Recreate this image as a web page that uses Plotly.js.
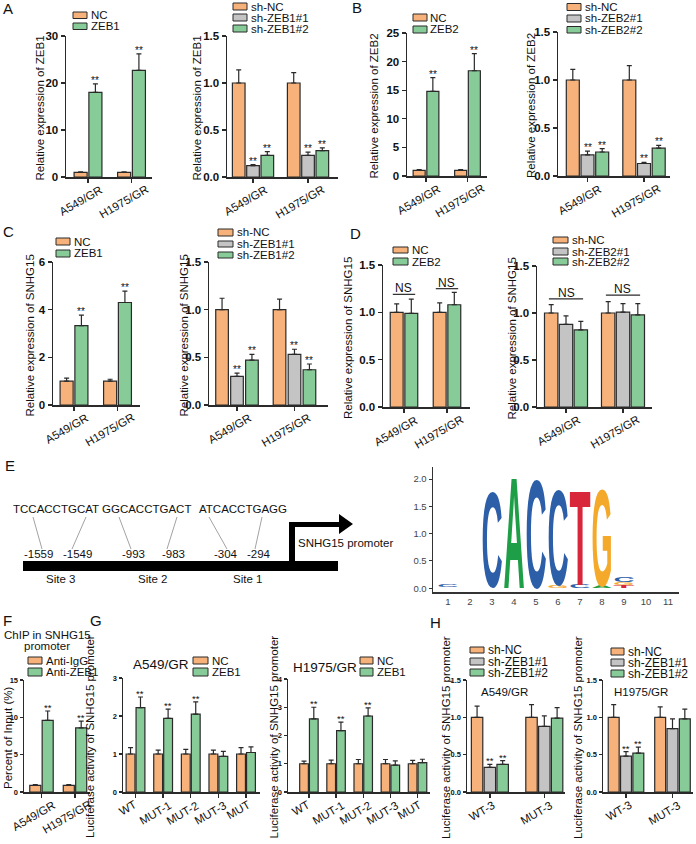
<!DOCTYPE html>
<html><head><meta charset="utf-8">
<script src="https://cdn.plot.ly/plotly-3.0.1.min.js"></script>
<style>html,body{margin:0;padding:0;background:#fff}#chart{width:696px;height:844px}</style>
</head><body><div id="chart"></div>
<script>
// ================= DATA =================
const cellLines = ['A549/GR', 'H1975/GR'];
const constructs = ['WT', 'MUT-1', 'MUT-2', 'MUT-3', 'MUT'];
const constructsH = ['WT-3', 'MUT-3'];

// Panel A
const A1_names = ['NC', 'ZEB1'];
const A1_vals = [[1.0, 1.0], [18.0, 22.7]];
const A1_errs = [[0.07, 0.07], [1.8, 3.5]];
const A1_sig = [['', ''], ['**', '**']];
const A2_names = ['sh-NC', 'sh-ZEB1#1', 'sh-ZEB1#2'];
const A2_vals = [[1.0, 1.0], [0.12, 0.23], [0.23, 0.28]];
const A2_errs = [[0.14, 0.11], [0.012, 0.035], [0.04, 0.03]];
const A2_sig = [['', ''], ['**', '**'], ['**', '**']];
// Panel B
const B1_names = ['NC', 'ZEB2'];
const B1_vals = [[1.0, 1.0], [14.8, 18.4]];
const B1_errs = [[0.1, 0.1], [2.4, 3.0]];
const B1_sig = [['', ''], ['**', '**']];
const B2_names = ['sh-NC', 'sh-ZEB2#1', 'sh-ZEB2#2'];
const B2_vals = [[1.0, 1.0], [0.22, 0.13], [0.25, 0.29]];
const B2_errs = [[0.11, 0.15], [0.04, 0.012], [0.035, 0.03]];
const B2_sig = [['', ''], ['**', '**'], ['**', '**']];
// Panel C
const C1_names = ['NC', 'ZEB1'];
const C1_vals = [[1.0, 1.0], [3.33, 4.3]];
const C1_errs = [[0.13, 0.08], [0.44, 0.48]];
const C1_sig = [['', ''], ['**', '**']];
const C2_names = ['sh-NC', 'sh-ZEB1#1', 'sh-ZEB1#2'];
const C2_vals = [[1.0, 1.0], [0.30, 0.53], [0.47, 0.37]];
const C2_errs = [[0.12, 0.11], [0.035, 0.055], [0.06, 0.06]];
const C2_sig = [['', ''], ['**', '**'], ['**', '**']];
// Panel D
const D1_names = ['NC', 'ZEB2'];
const D1_vals = [[1.0, 1.0], [0.99, 1.08]];
const D1_errs = [[0.09, 0.1], [0.15, 0.13]];
const D1_ns = ['NS', 'NS'];
const D1_nsLevel = [1.19, 1.25];
const D2_names = ['sh-NC', 'sh-ZEB2#1', 'sh-ZEB2#2'];
const D2_vals = [[1.0, 1.0], [0.88, 1.01], [0.82, 0.98]];
const D2_errs = [[0.09, 0.12], [0.09, 0.09], [0.09, 0.12]];
const D2_ns = ['NS', 'NS'];
const D2_nsLevel = [1.15, 1.19];
// Panel E (promoter schematic + motif logo)
const siteSeqs = ['TCCACCTGCAT', 'GGCACCTGACT', 'ATCACCTGAGG'];
const sitePositions = ['-1559', '-1549', '-993', '-983', '-304', '-294'];
const siteNames = ['Site 3', 'Site 2', 'Site 1'];
const logoPos    = [1,    3,    4,    5,    6,    6,    7,    7,    8,    8,    9,    9,    9];
const logoLetter = ['C',  'C',  'A',  'C',  'G',  'C',  'C',  'T',  'A',  'G',  'T',  'G',  'C'];
const logoBottom = [0.02, 0.03, 0.0,  0.0,  0.0,  0.05, 0.0,  0.06, 0.0,  0.04, 0.0,  0.05, 0.11];
const logoTop    = [0.06, 1.81, 2.07, 2.03, 0.05, 1.83, 0.06, 1.84, 0.04, 1.85, 0.05, 0.10, 0.21];
// Panel F
const F_names = ['Anti-IgG', 'Anti-ZEB1'];
const F_vals = [[0.9, 0.9], [9.6, 8.6]];
const F_errs = [[0.08, 0.08], [1.25, 0.9]];
const F_sig = [['', ''], ['**', '**']];
// Panel G
const G_names = ['NC', 'ZEB1'];
const G1_vals = [[1.0, 1.0, 1.0, 1.0, 1.0], [2.22, 1.94, 2.05, 0.94, 1.04]];
const G1_errs = [[0.17, 0.1, 0.12, 0.1, 0.17], [0.28, 0.24, 0.32, 0.13, 0.15]];
const G1_sig = [['', '', '', '', ''], ['**', '**', '**', '', '']];
const G2_vals = [[1.0, 1.0, 1.0, 1.0, 1.0], [2.59, 2.17, 2.69, 0.95, 1.04]];
const G2_errs = [[0.09, 0.13, 0.15, 0.15, 0.12], [0.41, 0.30, 0.29, 0.15, 0.12]];
const G2_sig = [['', '', '', '', ''], ['**', '**', '**', '', '']];
// Panel H
const H_names = ['sh-NC', 'sh-ZEB1#1', 'sh-ZEB1#2'];
const H1_vals = [[1.0, 1.0], [0.33, 0.88], [0.37, 0.99]];
const H1_errs = [[0.15, 0.17], [0.04, 0.14], [0.05, 0.14]];
const H1_sig = [['', ''], ['**', ''], ['**', '']];
const H2_vals = [[1.0, 1.0], [0.48, 0.85], [0.52, 0.98]];
const H2_errs = [[0.17, 0.14], [0.06, 0.13], [0.08, 0.13]];
const H2_sig = [['', ''], ['**', ''], ['**', '']];

// ================= STYLE / LAYOUT HELPERS =================
const FONT = 'Liberation Sans, Arial, Helvetica, sans-serif';
const W = 696, Hh = 844;
const X = p => p / W;
const Y = p => 1 - p / Hh;
const ORANGE = '#f7b27b', GRAY = '#c4c4c4', GREEN = '#86cb98', EDGE = '#2a2a2a', INK = '#111111';
const pal2 = [ORANGE, GREEN], pal3 = [ORANGE, GRAY, GREEN];
const LOGO_COL = {C: '#2d5ea8', A: '#1f9e48', T: '#d8273a', G: '#f5a92a'};

const traces = [], shapes = [], annotations = [], layout = {};

function ax(n) { return n === 1 ? '' : String(n); }
function ann(o) { annotations.push(Object.assign({showarrow: false, font: {family: FONT, size: 11.5, color: INK}}, o)); }

function panel(p) {
  const k = ax(p.n);
  const ns = p.names.length;
  const pal = ns === 2 ? pal2 : pal3;
  const total = ns * p.bw + (ns - 1) * p.gap;
  p.names.forEach((nm, s) => {
    const off = -total / 2 + s * (p.bw + p.gap);
    traces.push({
      type: 'bar', x: p.cats, y: p.vals[s], name: nm,
      xaxis: 'x' + k, yaxis: 'y' + k, offset: off, width: p.bw,
      marker: {color: pal[s], line: {color: EDGE, width: 1.2}},
      error_y: {type: 'data', symmetric: false, array: p.errs[s], arrayminus: p.vals[s].map(() => 0),
                color: EDGE, thickness: 1.2, width: 2.5},
      showlegend: false, hoverinfo: 'skip'
    });
    if (p.sig) p.sig[s].forEach((t, i) => {
      if (!t) return;
      ann({xref: 'x' + k, yref: 'y' + k, x: i + off + p.bw / 2, y: p.vals[s][i] + p.errs[s][i],
           text: t, yanchor: 'bottom', yshift: -4, font: {family: FONT, size: p.sfs || 10, color: INK}});
    });
    // legend entry
    const yy = p.leg.ys[s];
    shapes.push({type: 'rect', xref: 'paper', yref: 'paper', x0: X(p.leg.x[0]), x1: X(p.leg.x[1]),
                 y0: Y(yy[1]), y1: Y(yy[0]), fillcolor: pal[s], line: {color: EDGE, width: 1}});
    ann({xref: 'paper', yref: 'paper', x: X(p.leg.x[1] + 1.5), y: Y((yy[0] + yy[1]) / 2), xanchor: 'left', yanchor: 'middle',
         text: nm, font: {family: FONT, size: p.leg.fs || 11.5, color: INK}});
  });
  layout['xaxis' + k] = {
    domain: [X(p.xd[0]), X(p.xd[1])], range: p.xr, type: 'category', anchor: 'y' + k,
    showline: true, linecolor: EDGE, linewidth: 1.5, ticks: 'outside', ticklen: 4, tickwidth: 1.3, tickcolor: EDGE,
    showticklabels: false, showgrid: false, zeroline: false, fixedrange: true
  };
  layout['yaxis' + k] = {
    domain: [Y(p.yd[1]), Y(p.yd[0])], range: p.yr, anchor: 'x' + k, dtick: p.dtick, tick0: 0,
    tickformat: p.fmt || '', showline: true, linecolor: EDGE, linewidth: 1.5, ticks: 'outside', ticklen: p.tl || 4,
    tickwidth: 1.3, tickcolor: EDGE, showgrid: false, zeroline: false, fixedrange: true,
    tickfont: {family: FONT, size: p.tfs || 11.5, color: INK, weight: 'bold'}
  };
  // rotated category labels
  p.cats.forEach((c, i) => {
    ann({xref: 'x' + k, yref: 'paper', x: i, y: Y(p.yd[1]), xshift: -8, yshift: -4,
         xanchor: 'center', yanchor: 'top', textangle: -30, text: c, font: {family: FONT, size: 11.5, color: INK}});
  });
  // y title
  ann({xref: 'paper', yref: 'paper', x: X(p.ytx), y: Y((p.yd[0] + p.yd[1]) / 2 + 2), textangle: -90,
       xanchor: 'center', yanchor: 'middle', text: p.ytitle, font: {family: FONT, size: 11.5, color: INK}});
  if (p.ns) p.ns.forEach((t, i) => {
    shapes.push({type: 'line', xref: 'x' + k, yref: 'y' + k, x0: i - p.nsHalf, x1: i + p.nsHalf,
                 y0: p.nsLevel[i], y1: p.nsLevel[i], line: {color: EDGE, width: 1.2}});
    ann({xref: 'x' + k, yref: 'y' + k, x: i, y: p.nsLevel[i], yanchor: 'bottom', yshift: -3, text: t,
         font: {family: FONT, size: 12, color: INK}});
  });
  if (p.title) ann({xref: 'paper', yref: 'paper', x: X(p.title.x), y: Y(p.title.y), xanchor: 'center', yanchor: 'middle',
                    text: p.title.text, font: {family: FONT, size: p.title.fs, color: INK}});
}

// ---- bar panels ----
panel({n: 1, cats: cellLines, names: A1_names, vals: A1_vals, errs: A1_errs, sig: A1_sig,
  xd: [66, 152], yd: [36, 177], xr: [-0.506, 1.471], yr: [0, 30], dtick: 10, bw: 0.30, gap: 0.04,
  ytitle: 'Relative expression of ZEB1', ytx: 39, leg: {x: [73, 87], ys: [[12, 18.5], [23, 29.5]]}});
panel({n: 2, cats: cellLines, names: A2_names, vals: A2_vals, errs: A2_errs, sig: A2_sig,
  xd: [227, 338], yd: [36, 177], xr: [-0.473, 1.545], yr: [0, 1.5], dtick: 0.5, fmt: '.1f', bw: 0.23, gap: 0.03,
  ytitle: 'Relative expression of ZEB1', ytx: 196, leg: {x: [233, 247], ys: [[3, 10], [14, 21], [25, 32]]}});
panel({n: 3, cats: cellLines, names: B1_names, vals: B1_vals, errs: B1_errs, sig: B1_sig,
  xd: [407, 487], yd: [33, 176], xr: [-0.458, 1.47], yr: [0, 25], dtick: 5, bw: 0.29, gap: 0.04,
  ytitle: 'Relative expression of ZEB2', ytx: 373, leg: {x: [413, 427], ys: [[14, 21], [26, 33]]}});
panel({n: 4, cats: cellLines, names: B2_names, vals: B2_vals, errs: B2_errs, sig: B2_sig,
  xd: [558, 670], yd: [32, 176], xr: [-0.522, 1.46], yr: [0, 1.5], dtick: 0.5, fmt: '.1f', bw: 0.23, gap: 0.03,
  ytitle: 'Relative expression of ZEB2', ytx: 531, leg: {x: [567, 581], ys: [[3.5, 10.5], [15, 22], [26.5, 33]]}});
panel({n: 5, cats: cellLines, names: C1_names, vals: C1_vals, errs: C1_errs, sig: C1_sig,
  xd: [53, 140], yd: [262, 405], xr: [-0.483, 1.517], yr: [0, 6], dtick: 2, bw: 0.30, gap: 0.04,
  ytitle: 'Relative expression of SNHG15', ytx: 29, leg: {x: [56, 70], ys: [[238, 245], [250, 257]]}});
panel({n: 6, cats: cellLines, names: C2_names, vals: C2_vals, errs: C2_errs, sig: C2_sig,
  xd: [209, 328], yd: [262, 405], xr: [-0.487, 1.583], yr: [0, 1.5], dtick: 0.5, fmt: '.1f', bw: 0.22, gap: 0.04,
  ytitle: 'Relative expression of SNHG15', ytx: 183, leg: {x: [218, 233], ys: [[229, 236], [241, 247], [252, 258]]}});
panel({n: 7, cats: cellLines, names: D1_names, vals: D1_vals, errs: D1_errs,
  xd: [383, 470], yd: [265, 407], xr: [-0.488, 1.535], yr: [0, 1.5], dtick: 0.5, fmt: '.1f', bw: 0.30, gap: 0.04,
  ytitle: 'Relative expression of SNHG15', ytx: 348, leg: {x: [393, 408], ys: [[247, 253], [258, 265]]},
  ns: D1_ns, nsLevel: D1_nsLevel, nsHalf: 0.26});
panel({n: 8, cats: cellLines, names: D2_names, vals: D2_vals, errs: D2_errs,
  xd: [537, 652], yd: [266, 407], xr: [-0.509, 1.509], yr: [0, 1.5], dtick: 0.5, fmt: '.1f', bw: 0.235, gap: 0.025,
  ytitle: 'Relative expression of SNHG15', ytx: 511, leg: {x: [553, 568], ys: [[237, 243], [248, 255], [258, 265]]},
  ns: D2_ns, nsLevel: D2_nsLevel, nsHalf: 0.30});
panel({n: 9, cats: cellLines, names: F_names, vals: F_vals, errs: F_errs, sig: F_sig, sfs: 9.5,
  xd: [24, 90], yd: [680, 792], xr: [-0.522, 1.448], yr: [0, 15], dtick: 5, bw: 0.33, gap: 0.04, tfs: 7.5, tl: 3,
  ytitle: 'Percent of Input (%)', ytx: 8, leg: {x: [28, 42], ys: [[657, 664], [668, 676]]}});
panel({n: 10, cats: constructs, names: G_names, vals: G1_vals, errs: G1_errs, sig: G1_sig, sfs: 9.5,
  xd: [123, 260], yd: [678, 792], xr: [-0.453, 4.507], yr: [0, 3], dtick: 1, bw: 0.32, gap: 0.04, tfs: 7.5, tl: 3,
  ytitle: 'Luciferase activity of SNHG15 promoter', ytx: 90, leg: {x: [193, 208], ys: [[657, 664], [668, 676]]},
  title: {text: 'A549/GR', x: 161, y: 664, fs: 13.5}});
panel({n: 11, cats: constructs, names: G_names, vals: G2_vals, errs: G2_errs, sig: G2_sig, sfs: 9.5,
  xd: [288, 430], yd: [679, 792], xr: [-0.77, 4.459], yr: [0, 4], dtick: 1, bw: 0.32, gap: 0.04, tfs: 7.5, tl: 3,
  ytitle: 'Luciferase activity of SNHG15 promoter', ytx: 273, leg: {x: [360, 373], ys: [[657, 664], [668, 676]]},
  title: {text: 'H1975/GR', x: 325, y: 667, fs: 13.5}});
panel({n: 12, cats: constructsH, names: H_names, vals: H1_vals, errs: H1_errs, sig: H1_sig, sfs: 9.5,
  xd: [467, 565], yd: [680, 792], xr: [-0.42, 1.38], yr: [0, 1.5], dtick: 0.5, fmt: '.1f', bw: 0.21, gap: 0.025, tfs: 7.5, tl: 3,
  ytitle: 'Luciferase activity of SNHG15 promoter', ytx: 446,
  leg: {x: [470, 484], ys: [[647, 653], [658, 665], [669, 676]], fs: 12},
  title: {text: 'A549/GR', x: 504, y: 692, fs: 11.5}});
panel({n: 13, cats: constructsH, names: H_names, vals: H2_vals, errs: H2_errs, sig: H2_sig, sfs: 9.5,
  xd: [603, 693], yd: [680, 792], xr: [-0.495, 1.441], yr: [0, 1.5], dtick: 0.5, fmt: '.1f', bw: 0.235, gap: 0.03, tfs: 7.5, tl: 3,
  ytitle: 'Luciferase activity of SNHG15 promoter', ytx: 578,
  leg: {x: [611, 624], ys: [[648, 655], [659, 666], [670, 677]], fs: 12},
  title: {text: 'H1975/GR', x: 641, y: 692, fs: 11.5}});

// F title
ann({xref: 'paper', yref: 'paper', x: X(47), y: Y(635), text: 'ChIP in SNHG15', xanchor: 'center', yanchor: 'middle'});
ann({xref: 'paper', yref: 'paper', x: X(47), y: Y(646), text: 'promoter', xanchor: 'center', yanchor: 'middle'});

// ---- motif logo axes ----
layout.xaxis14 = {domain: [X(433), X(679)], range: [0.32, 11.5], anchor: 'y14', tickvals: [1,2,3,4,5,6,7,8,9,10,11],
  showline: true, linecolor: '#333', linewidth: 1.5, ticks: '', showgrid: false, zeroline: false, fixedrange: true,
  tickfont: {family: FONT, size: 9.5, color: '#444'}};
layout.yaxis14 = {domain: [Y(592), Y(467)], range: [-0.07, 2.22], anchor: 'x14', tickvals: [0, 0.5, 1, 1.5, 2],
  tickformat: '.1f', showline: true, linecolor: '#333', linewidth: 1.5, ticks: 'outside', ticklen: 3, tickcolor: '#333',
  showgrid: false, zeroline: false, fixedrange: true, tickfont: {family: FONT, size: 9.5, color: '#444'}};
traces.push({type: 'scatter', mode: 'markers', x: logoPos, y: logoBottom, xaxis: 'x14', yaxis: 'y14',
  marker: {opacity: 0}, showlegend: false, hoverinfo: 'skip'});

// ---- promoter schematic ----
const P = (x, y) => X(x).toFixed(5) + ',' + Y(y).toFixed(5);
shapes.push({type: 'rect', xref: 'paper', yref: 'paper', x0: X(23), x1: X(338), y0: Y(571), y1: Y(561),
  fillcolor: '#000', line: {width: 0}});
shapes.push({type: 'path', xref: 'paper', yref: 'paper', fillcolor: '#000', line: {width: 0},
  path: 'M' + P(289, 561) + 'L' + P(289, 522) + 'L' + P(339, 522) + 'L' + P(339, 514) + 'L' + P(353, 524) +
        'L' + P(339, 534) + 'L' + P(339, 527) + 'L' + P(295, 527) + 'L' + P(295, 561) + 'Z'});
const connectors = [[33, 42], [86, 72], [119, 131], [177, 167], [209, 227], [262, 255]];
connectors.forEach(c => shapes.push({type: 'line', xref: 'paper', yref: 'paper', x0: X(c[0]), y0: Y(517),
  x1: X(c[1]), y1: Y(549), line: {color: '#8a8a8a', width: 0.8}}));
const seqX = [56, 146.5, 243];
siteSeqs.forEach((s, i) => ann({xref: 'paper', yref: 'paper', x: X(seqX[i]), y: Y(509), text: s, xanchor: 'center', yanchor: 'middle'}));
const posX = [38, 77, 133, 173, 226, 259];
sitePositions.forEach((s, i) => ann({xref: 'paper', yref: 'paper', x: X(posX[i]), y: Y(554), text: s, xanchor: 'center', yanchor: 'middle'}));
const siteX = [60, 152, 247];
siteNames.forEach((s, i) => ann({xref: 'paper', yref: 'paper', x: X(siteX[i]), y: Y(578.5), text: s, xanchor: 'center', yanchor: 'middle'}));
ann({xref: 'paper', yref: 'paper', x: X(296), y: Y(543), text: 'SNHG15 promoter', xanchor: 'left', yanchor: 'middle'});

// ---- panel letters ----
[['A', 8, 8.5], ['B', 356.5, 7.5], ['C', 8, 231], ['D', 355, 233], ['E', 10, 465], ['F', 7, 620], ['G', 96, 620], ['H', 435, 622]]
  .forEach(l => ann({xref: 'paper', yref: 'paper', x: X(l[1]), y: Y(l[2]), text: l[0], xanchor: 'center', yanchor: 'middle',
                     font: {family: FONT, size: 15, color: INK}}));

Object.assign(layout, {
  width: W, height: Hh, margin: {l: 0, r: 0, t: 0, b: 0, pad: 0},
  paper_bgcolor: '#fff', plot_bgcolor: 'rgba(0,0,0,0)', showlegend: false,
  font: {family: FONT, color: INK}, shapes: shapes, annotations: annotations
});

Plotly.newPlot('chart', traces, layout, {staticPlot: true, displayModeBar: false}).then(gd => {
  // Draw the sequence-logo letters using the logo subplot's own axis scales
  const xa = gd._fullLayout.xaxis14, ya = gd._fullLayout.yaxis14;
  const NS = 'http://www.w3.org/2000/svg';
  const svg = gd.querySelector('.main-svg');
  const g = document.createElementNS(NS, 'g');
  logoPos.forEach((p, i) => {
    const x0 = xa._offset + xa.l2p(p - 0.48), x1 = xa._offset + xa.l2p(p + 0.48);
    const yb = ya._offset + ya.l2p(logoBottom[i]), yt = ya._offset + ya.l2p(logoTop[i]);
    const h = yb - yt;
    if (h <= 0.3) return;
    const t = document.createElementNS(NS, 'text');
    t.setAttribute('x', x0);
    t.setAttribute('y', yb);
    t.setAttribute('font-family', FONT);
    t.setAttribute('font-weight', 'bold');
    t.setAttribute('font-size', (h / 0.716).toFixed(2));
    t.setAttribute('fill', LOGO_COL[logoLetter[i]]);
    t.setAttribute('textLength', (x1 - x0).toFixed(2));
    t.setAttribute('lengthAdjust', 'spacingAndGlyphs');
    t.textContent = logoLetter[i];
    g.appendChild(t);
  });
  svg.appendChild(g);
});
</script>
</body></html>
